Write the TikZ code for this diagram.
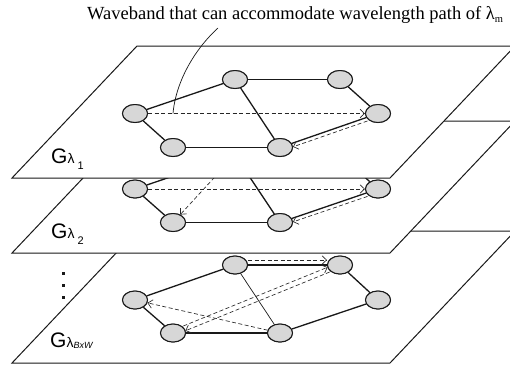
\documentclass[tikz,border=0pt]{standalone}
\usepackage{fontspec}
\setmainfont{Liberation Serif}
\newfontfamily\arialfont{Liberation Sans}
\usetikzlibrary{shapes.geometric,arrows.meta}
\definecolor{nodegray}{RGB}{215,215,215}
\begin{document}
\begin{tikzpicture}[x=1pt,y=-1pt,
  planebox/.style={draw=black!90, fill=white, line width=1pt, line join=miter},
  nd/.style={ellipse, draw=black!90, fill=nodegray, line width=1pt, minimum width=25pt, minimum height=18pt, inner sep=0pt},
  link/.style={draw=black!90, line width=1.3pt},
  thinlink/.style={draw=black!90, line width=0.7pt},
  darr/.style={draw=black!85, line width=0.65pt, dash pattern=on 4pt off 2.5pt, -{Straight Barb[length=4.5pt,width=8.5pt]}},
  lbl/.style={anchor=base west, inner sep=0pt, font=\arialfont},
  dotsq/.style={rectangle, fill=black!90, minimum size=3pt, inner sep=0pt}
]
\useasboundingbox (0,0) rectangle (510,365);
\begin{scope}
\clip (0,0) rectangle (510,365);
% ---------- plane 3 ----------
\draw[planebox] (12,363) -- (390,363) -- (515,231) -- (137,231) -- cycle;
\node[nd] (a3) at (135,300) {};
\node[nd] (b3) at (235,265) {};
\node[nd] (c3) at (340,265) {};
\node[nd] (d3) at (378,300) {};
\node[nd] (e3) at (173,333) {};
\node[nd] (f3) at (280,333) {};
\draw[link] (a3) -- (b3);
\draw[link] (b3) -- (c3);
\draw[link] (c3) -- (d3);
\draw[link] (d3) -- (f3);
\draw[link] (f3) -- (e3);
\draw[link] (e3) -- (a3);
\draw[thinlink] (b3) -- (f3);
\draw[darr, transform canvas={shift={(0pt,5pt)}}] (b3) -- (c3);
\draw[darr] (f3) -- (a3);
\draw[darr, transform canvas={shift={(-1pt,2.4pt)}}] (e3) -- (c3);
\draw[darr, transform canvas={shift={(1pt,-2.4pt)}}] (c3) -- (e3);
\node[nd] at (a3) {};
\node[nd] at (b3) {};
\node[nd] at (c3) {};
\node[nd] at (d3) {};
\node[nd] at (e3) {};
\node[nd] at (f3) {};
\node[lbl] (g3) at (50,347) {\fontsize{21}{21}\selectfont G\fontsize{14}{14}\selectfont λ\raisebox{-1.5pt}{\fontsize{9}{9}\selectfont\itshape BxW}};
\node[dotsq] (v1) at (63,273) {};
\node[dotsq] (v2) at (63,285) {};
\node[dotsq] (v3) at (63,297) {};
% ---------- plane 2 ----------
\draw[planebox] (12,253) -- (390,253) -- (515,121) -- (137,121) -- cycle;
\node[nd] (a2) at (135,189) {};
\node[nd] (b2) at (235,155) {};
\node[nd] (c2) at (340,155) {};
\node[nd] (d2) at (378,189) {};
\node[nd] (e2) at (173,222.5) {};
\node[nd] (f2) at (280,222.5) {};
\draw[link] (a2) -- (b2);
\draw[link] (b2) -- (c2);
\draw[link] (c2) -- (d2);
\draw[link] (d2) -- (f2);
\draw[link] (f2) -- (e2);
\draw[link] (e2) -- (a2);
\draw[link] (b2) -- (f2);
\draw[darr] (a2) -- (d2);
\draw[darr, transform canvas={shift={(1.2pt,-3.4pt)}}] (d2) -- (f2);
\draw[darr] (b2) -- (e2);
\node[nd] at (a2) {};
\node[nd] at (d2) {};
\node[nd] at (e2) {};
\node[nd] at (f2) {};
\node[lbl] (g2) at (51,238) {\fontsize{21}{21}\selectfont G\fontsize{14}{14}\selectfont λ\hspace{3pt}\raisebox{-6pt}{\fontsize{11}{11}\selectfont 2}};
% ---------- plane 1 ----------
\draw[planebox] (12,178) -- (390,178) -- (515,46) -- (137,46) -- cycle;
\node[nd] (a1) at (135,113.5) {};
\node[nd] (b1) at (235,79.5) {};
\node[nd] (c1) at (340,79.5) {};
\node[nd] (d1) at (378,113.5) {};
\node[nd] (e1) at (173,147.5) {};
\node[nd] (f1) at (280,147.5) {};
\draw[link] (a1) -- (b1);
\draw[link] (b1) -- (c1);
\draw[link] (c1) -- (d1);
\draw[link] (d1) -- (f1);
\draw[link] (f1) -- (e1);
\draw[link] (e1) -- (a1);
\draw[link] (b1) -- (f1);
\draw[darr] (a1) -- (d1);
\draw[darr, transform canvas={shift={(1.2pt,-3.4pt)}}] (d1) -- (f1);
\node[nd] at (a1) {};
\node[nd] at (b1) {};
\node[nd] at (c1) {};
\node[nd] at (d1) {};
\node[nd] at (e1) {};
\node[nd] at (f1) {};
\node[lbl] (g1) at (51,163) {\fontsize{21}{21}\selectfont G\fontsize{14}{14}\selectfont λ\hspace{3pt}\raisebox{-6pt}{\fontsize{11}{11}\selectfont 1}};
% ---------- caption ----------
\node[anchor=base west, inner sep=0pt] (title) at (87,19) {\fontsize{18.5}{18.5}\selectfont Waveband that can accommodate wavelength path of λ\raisebox{-3pt}{\fontsize{10.5}{10.5}\selectfont m}};
\coordinate (lt) at (218,28);
\coordinate (lb) at (173,113.5);
\draw[thinlink] (lt) .. controls (196,48) and (176,80) .. (lb);
\end{scope}
\end{tikzpicture}
\end{document}
